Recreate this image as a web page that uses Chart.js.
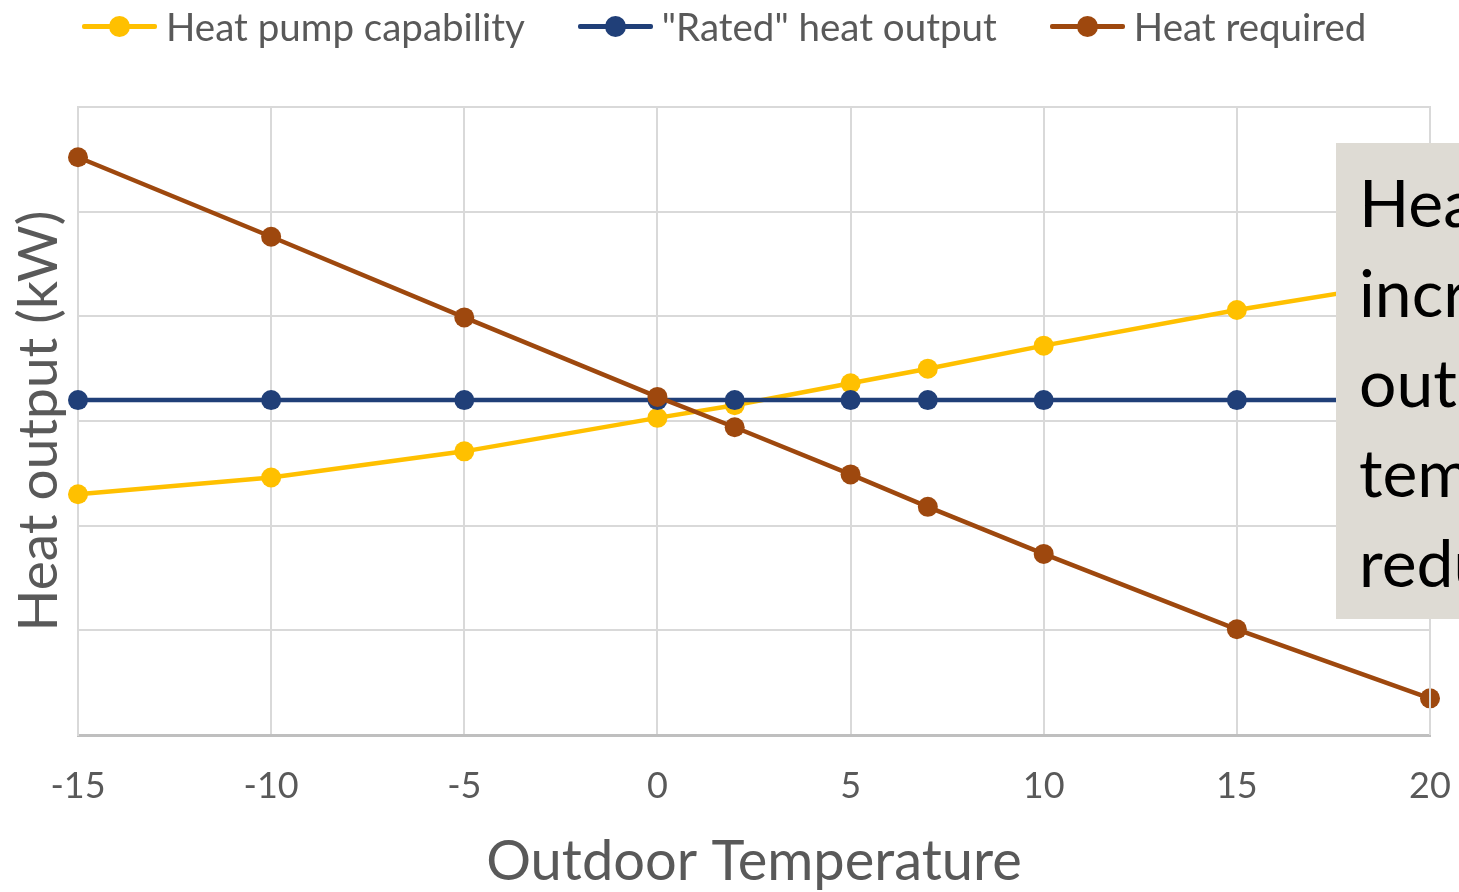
<!DOCTYPE html>
<html>
<head>
<meta charset="utf-8">
<script src="https://cdn.jsdelivr.net/npm/chart.js@4"></script>
<style>
  html, body { margin: 0; padding: 0; background: #fff; }
  #wrap { position: relative; width: 1459px; height: 892px; overflow: hidden; }
  #legend { position: absolute; left: 82px; top: 3px; display: flex; gap: 53px;
            font-family: Lato, "Open Sans", sans-serif; font-size: 38.5px; color: #595959; }
  .item { display: flex; align-items: center; }
  .swatch { position: relative; width: 75px; height: 5px; margin-right: 9px; border-radius: 2px; }
  .swatch span { position: absolute; left: 27px; top: -8px; width: 21px; height: 21px; border-radius: 50%; }
  #note { position: absolute; left: 1336px; top: 143px; width: 400px; height: 476px;
          background: #dedbd4; font-family: Lato, sans-serif; font-size: 66px; color: #000;
          padding: 14px 0 0 23px; box-sizing: border-box; line-height: 90px; white-space: nowrap; }
</style>
</head>
<body>
<div id="wrap">
  <canvas id="myChart" width="1459" height="892"></canvas>
  <div id="legend"></div>
  <div id="note">Heat pump<br>increases<br>output as<br>temperature<br>reduces</div>
</div>
<script>
const temps = [-15, -10, -5, 0, 2, 5, 7, 10, 15, 20];
const capability = [2.30, 2.46, 2.71, 3.03, 3.15, 3.36, 3.50, 3.72, 4.06, 4.36];
const rated = [3.20, 3.20, 3.20, 3.20, 3.20, 3.20, 3.20, 3.20, 3.20, 3.20];
const required = [5.52, 4.76, 3.99, 3.23, 2.94, 2.49, 2.18, 1.73, 1.01, 0.35];
const xTicks = [-15, -10, -5, 0, 5, 10, 15, 20];

const grey = "#595959";
const font = "Lato, 'Open Sans', sans-serif";

function series(label, values, color, order) {
  return {
    label: label,
    data: temps.map((t, i) => ({ x: t, y: values[i] })),
    borderColor: color,
    backgroundColor: color,
    borderWidth: 4.5,
    pointRadius: 10,
    pointBorderWidth: 0,
    order: order,
    clip: false
  };
}

const datasets = [
  series("Heat pump capability", capability, "#ffc000", 2),
  series("\"Rated\" heat output", rated, "#203f78", 1),
  series("Heat required", required, "#9e480e", 0)
];

const chart = new Chart(document.getElementById("myChart"), {
  type: "line",
  data: { datasets: datasets },
  options: {
    responsive: false,
    animation: false,
    layout: { padding: { top: 107, right: 29, left: 0, bottom: 0 } },
    plugins: { legend: { display: false }, tooltip: { enabled: false } },
    scales: {
      x: {
        type: "linear",
        min: -15,
        max: 20,
        afterBuildTicks: (scale) => { scale.ticks = xTicks.map((v) => ({ value: v })); },
        afterFit: (scale) => { scale.height = 157; scale.paddingLeft = 0; scale.paddingRight = 0; },
        ticks: { color: grey, font: { family: font, size: 36 }, padding: 30 },
        grid: { color: "#d9d9d9", lineWidth: 2, drawTicks: false },
        border: { color: "#bfbfbf", width: 3 },
        title: { display: true, text: "Outdoor Temperature", color: grey,
                 font: { family: font, size: 56 }, padding: { bottom: -4 } }
      },
      y: {
        min: 0,
        max: 6,
        afterFit: (scale) => { scale.width = 78; scale.paddingTop = 0; scale.paddingBottom = 0; },
        ticks: { display: false, stepSize: 1 },
        grid: { color: "#d9d9d9", lineWidth: 2, drawTicks: false },
        border: { color: "#d9d9d9", width: 2 },
        title: { display: true, text: "Heat output (kW)", color: grey,
                 font: { family: font, size: 55 }, padding: { top: 6 } }
      }
    }
  },
  plugins: [{
    id: "frame",
    afterDraw(c) {
      const { ctx, chartArea: a } = c;
      ctx.save();
      ctx.strokeStyle = "#d9d9d9";
      ctx.lineWidth = 2;
      ctx.beginPath();
      ctx.moveTo(a.left, a.top);
      ctx.lineTo(a.right, a.top);
      ctx.lineTo(a.right, a.bottom);
      ctx.stroke();
      ctx.restore();
    }
  }]
});

// HTML legend built from the datasets
const legend = document.getElementById("legend");
chart.data.datasets.forEach((ds) => {
  const item = document.createElement("div");
  item.className = "item";
  const sw = document.createElement("div");
  sw.className = "swatch";
  sw.style.background = ds.borderColor;
  const dot = document.createElement("span");
  dot.style.background = ds.borderColor;
  sw.appendChild(dot);
  item.appendChild(sw);
  item.appendChild(document.createTextNode(ds.label));
  legend.appendChild(item);
});
</script>
</body>
</html>
